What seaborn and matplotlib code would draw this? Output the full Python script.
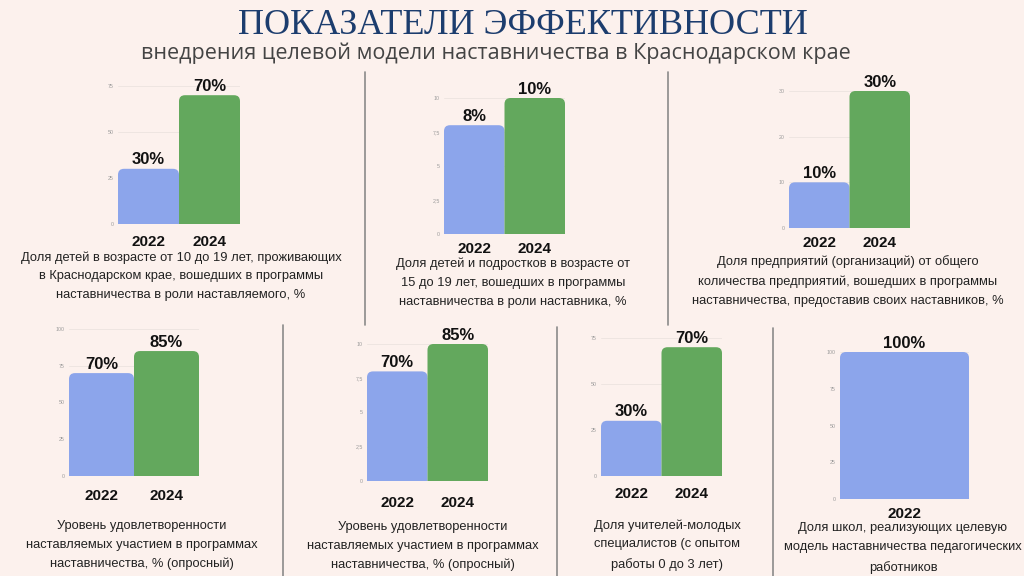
import numpy as np
import pandas as pd
import seaborn as sns
import matplotlib.pyplot as plt
from matplotlib.patches import FancyBboxPatch
from matplotlib.lines import Line2D

# chart data
years_two = ["2022", "2024"]
years_one = ["2022"]

vals_children = [30, 70]
lbl_children = ["30%", "70%"]
vals_teens = [8, 10]
lbl_teens = ["8%", "10%"]
vals_firms = [10, 30]
lbl_firms = ["10%", "30%"]
vals_satisf_a = [70, 85]
lbl_satisf_a = ["70%", "85%"]
vals_satisf_b = [8, 10]
lbl_satisf_b = ["70%", "85%"]
vals_teachers = [30, 70]
lbl_teachers = ["30%", "70%"]
vals_schools = [100]
lbl_schools = ["100%"]

ticks_75 = [0, 25, 50, 75]
ticks_10 = [0, 2.5, 5, 7.5, 10]
ticks_30 = [0, 10, 20, 30]
ticks_100 = [0, 25, 50, 75, 100]

desc_children = "Доля детей в возрасте от 10 до 19 лет, проживающих\nв Краснодарском крае, вошедших в программы\nнаставничества в роли наставляемого, %"
desc_teens = "Доля детей и подростков в возрасте от\n15 до 19 лет, вошедших в программы\nнаставничества в роли наставника, %"
desc_firms = "Доля предприятий (организаций) от общего\nколичества предприятий, вошедших в программы\nнаставничества, предоставив своих наставников, %"
desc_satisf = "Уровень удовлетворенности\nнаставляемых участием в программах\nнаставничества, % (опросный)"
desc_teachers = "Доля учителей-молодых\nспециалистов (с опытом\nработы 0 до 3 лет)"
desc_schools = "Доля школ, реализующих целевую\nмодель наставничества педагогических\nработников"

BG = "#fcf1ed"
BLUE = "#8ca5eb"
GREEN = "#63a85d"
W, H = 1024, 576

sns.set_theme(style="white")
plt.rcParams["font.family"] = ["Liberation Sans", "DejaVu Sans"]

fig = plt.figure(figsize=(W / 100, H / 100), dpi=100, facecolor=BG)


def px_axes(x0, x1, ytop, ybot):
    return fig.add_axes([x0 / W, 1 - ybot / H, (x1 - x0) / W, (ybot - ytop) / H])


def tick_fmt(t):
    return f"{t:g}".replace(".", ",")


def panel(box, years, vals, labels, ticks, year_pad, desc, desc_xy):
    ax = px_axes(*box)
    ax.set_facecolor(BG)
    df = pd.DataFrame({"year": years, "value": vals})
    sns.barplot(data=df, x="year", y="value", hue="year",
                palette=[BLUE, GREEN][:len(years)], width=1.0,
                legend=False, ax=ax, saturation=1)
    ax.set_xlim(-0.5, len(years) - 0.5)
    ax.set_ylim(0, ticks[-1])
    ax.set_yticks(ticks)
    ax.set_yticklabels([tick_fmt(t) for t in ticks], fontsize=3.8, color="#9a9a9a")
    ax.tick_params(axis="y", length=0, pad=3)
    ax.tick_params(axis="x", length=0, pad=year_pad, labelsize=11)
    for t in ax.get_xticklabels():
        t.set_fontweight("bold")
        t.set_color("#111111")
    ax.set_xlabel("")
    ax.set_ylabel("")
    ax.grid(axis="y", color="#ece3df", linewidth=0.6)
    ax.set_axisbelow(True)
    for s in ax.spines.values():
        s.set_visible(False)

    # rounded tops: swap each bar for a rounded box of the same geometry
    fig.canvas.draw()
    bb = ax.get_window_extent()
    xdpp = len(years) / bb.width
    ydpp = ticks[-1] / bb.height
    r = 6 * xdpp
    aspect = ydpp / xdpp
    for p in list(ax.patches):
        x, y = p.get_x(), p.get_y()
        w, h = p.get_width(), p.get_height()
        fb = FancyBboxPatch((x, y - 10 * ydpp), w, h + 10 * ydpp,
                            boxstyle=f"round,pad=0,rounding_size={r}",
                            mutation_aspect=aspect, facecolor=p.get_facecolor(),
                            edgecolor="none", zorder=2)
        p.remove()
        ax.add_patch(fb)
        fb.set_clip_path(ax.patch)

    for i, (v, lab) in enumerate(zip(vals, labels)):
        ax.annotate(lab, (i, v), xytext=(0, 1), textcoords="offset points",
                    ha="center", va="bottom", fontsize=12, fontweight="bold",
                    color="#111111", annotation_clip=False)

    fig.text(desc_xy[0] / W, 1 - desc_xy[1] / H, desc, ha="center", va="center",
             fontsize=9.3, color="#222222", linespacing=1.75)
    return ax


panel((118, 240, 86, 224), years_two, vals_children, lbl_children, ticks_75, 8,
      desc_children, (181, 276))
panel((444, 565, 98, 234), years_two, vals_teens, lbl_teens, ticks_10, 6,
      desc_teens, (513, 283))
panel((789, 910, 91, 228), years_two, vals_firms, lbl_firms, ticks_30, 6,
      desc_firms, (848, 281))
panel((69, 199, 329, 476), years_two, vals_satisf_a, lbl_satisf_a, ticks_100, 9,
      desc_satisf, (142, 545))
panel((367, 488, 344, 481), years_two, vals_satisf_b, lbl_satisf_b, ticks_10, 11,
      desc_satisf, (423, 546))
panel((601, 722, 338, 476), years_two, vals_teachers, lbl_teachers, ticks_75, 8,
      desc_teachers, (667, 545))
panel((840, 969, 352, 499), years_one, vals_schools, lbl_schools, ticks_100, 6,
      desc_schools, (903, 548))

# separators
for x, y0, y1 in [(365, 72, 325), (668, 72, 325), (283, 325, 576),
                  (557, 327, 576), (773, 328, 576)]:
    fig.add_artist(Line2D([x / W, x / W], [1 - y0 / H, 1 - y1 / H],
                          color="#8a8a8a", linewidth=1.2))

fig.text(523 / W, 1 - 34 / H, "ПОКАЗАТЕЛИ ЭФФЕКТИВНОСТИ", ha="center", va="baseline",
         fontsize=26, color="#1c3d6e", family=["Liberation Serif", "DejaVu Serif"])
fig.text(496 / W, 1 - 59 / H, "внедрения целевой модели наставничества в Краснодарском крае",
         ha="center", va="baseline", fontsize=15.5, color="#444444",
         family=["Open Sans", "DejaVu Sans"])

fig.savefig("out.png", dpi=100, facecolor=BG)
